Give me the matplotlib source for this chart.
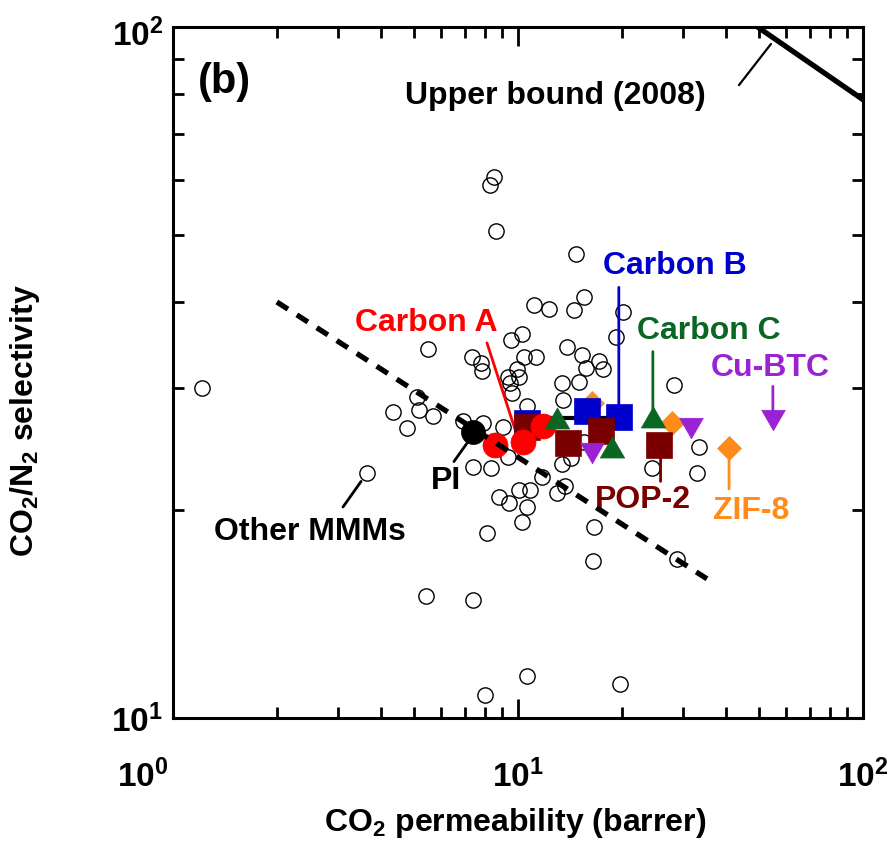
import matplotlib.pyplot as plt
from matplotlib.ticker import NullFormatter
from matplotlib.transforms import ScaledTranslation

plt.rcParams['font.family'] = ['Liberation Sans', 'DejaVu Sans']
plt.rcParams['font.weight'] = 'bold'
plt.rcParams['axes.labelweight'] = 'bold'
plt.rcParams['mathtext.fontset'] = 'custom'
plt.rcParams['mathtext.rm'] = 'Liberation Sans:bold'
plt.rcParams['mathtext.bf'] = 'Liberation Sans:bold'
plt.rcParams['mathtext.it'] = 'Liberation Sans:bold'

# other mixed matrix membranes (open circles)
other_x = [1.21, 3.65, 5.48, 7.36, 7.81, 7.86, 5.10, 4.34, 5.16, 5.67, 4.77, 6.93, 7.92, 9.05,
           7.41, 8.35, 8.81, 9.42, 9.54, 10.27, 8.64, 8.52, 8.30, 14.7, 15.5, 11.1, 12.3, 14.5,
           20.2, 19.2, 10.4, 11.3, 9.93, 9.35, 10.1, 9.48, 9.61, 13.9, 15.3, 15.7, 17.2, 17.6,
           13.4, 15.0, 13.5, 10.6, 9.35, 13.4, 14.2, 11.7, 13.7, 13.0, 10.1, 10.8, 10.6, 10.3,
           8.13, 16.6, 16.5, 28.9, 24.5, 33.0, 33.5, 28.3, 5.41, 7.41, 10.6, 8.02, 19.8, 15.5]
other_y = [30.0, 22.6, 34.2, 33.3, 32.6, 31.8, 29.1, 27.7, 27.9, 27.4, 26.3, 26.9, 26.7, 26.4,
           23.1, 23.0, 20.9, 20.5, 35.2, 36.0, 50.7, 60.7, 59.1, 46.9, 40.7, 39.6, 39.1, 38.9,
           38.7, 35.6, 33.3, 33.3, 32.0, 31.2, 31.2, 30.5, 29.5, 34.4, 33.5, 32.1, 32.9, 32.0,
           30.5, 30.6, 28.9, 28.3, 23.9, 23.3, 23.8, 22.3, 21.7, 21.2, 21.4, 21.4, 20.2, 19.2,
           18.5, 18.9, 16.9, 17.0, 23.0, 22.6, 24.7, 30.3, 15.0, 14.8, 11.5, 10.8, 11.2, 25.1]

pi_x = [7.41]
pi_y = [25.9]
carbonA_x = [8.58, 10.34, 11.81]
carbonA_y = [24.8, 25.1, 26.5]
carbonB_x = [10.62, 15.85, 19.6]
carbonB_y = [26.7, 27.8, 27.3]
carbonC_x = [12.97, 18.7, 24.6]
carbonC_y = [27.2, 24.7, 27.3]
pop2_x = [10.62, 13.96, 17.4, 25.6]
pop2_y = [26.4, 25.0, 26.0, 24.8]
cubtc_x = [16.4, 31.7, 54.8]
cubtc_y = [24.2, 26.3, 27.0]
zif8_x = [16.4, 27.9, 40.9]
zif8_y = [28.6, 26.7, 24.6]

trend_x = [2.0, 35.3]
trend_y = [40.0, 15.9]
link_x = [10.6, 19.6]
link_y = [27.2, 27.2]
ub_x = [49.5, 100]
ub_y = [100, 78.5]

red = '#ff0000'
blue = '#0000cc'
green = '#0b6623'
maroon = '#7a0000'
purple = '#9a22d4'
orange = '#ff8c1a'

up_tri = [(-1, -0.866), (1, -0.866), (0, 0.866), (-1, -0.866)]
down_tri = [(-1, 0.866), (1, 0.866), (0, -0.866), (-1, 0.866)]

fig = plt.figure(figsize=(8.93, 8.47), dpi=100)
ax = fig.add_axes([0.1937, 0.1523, 0.7727, 0.8158])
ax.set_xscale('log')
ax.set_yscale('log')
ax.set_xlim(1, 100)
ax.set_ylim(10, 100)

ax.plot(other_x, other_y, 'o', ms=11, mfc='none', mec='k', mew=1.0, zorder=2)
ax.plot(link_x, link_y, '-', color='k', lw=3, zorder=3)
ax.plot(zif8_x, zif8_y, 'D', ms=12.2, color=orange, mew=0.5, zorder=4)
ax.plot(carbonB_x, carbonB_y, 's', ms=18.5, color=blue, mew=0.5, zorder=5)
ax.plot(pop2_x, pop2_y, 's', ms=18.5, color=maroon, mew=0.5, zorder=6)
ax.plot(carbonA_x, carbonA_y, 'o', ms=18, color=red, mew=0.5, zorder=7)
ax.plot(pi_x, pi_y, 'o', ms=17.3, color='k', mew=0.5, zorder=7)
ax.plot(cubtc_x, cubtc_y, linestyle='none', marker=down_tri, ms=17, color=purple, mew=0.5, zorder=8)
ax.plot(carbonC_x, carbonC_y, linestyle='none', marker=up_tri, ms=17.5, color=green, mew=0.5, zorder=9)
ax.plot(trend_x, trend_y, color='k', lw=3.8, ls=(0, (2.5, 2.0)), zorder=10)
ax.plot(ub_x, ub_y, color='k', lw=3.8, zorder=10)

def leader(x0, y0, x1, y1, c, lw=2.0):
    ax.annotate('', xy=(x1, y1), xytext=(x0, y0),
                arrowprops=dict(arrowstyle='-', color=c, lw=lw, shrinkA=0, shrinkB=0),
                zorder=3)

leader(8.13, 34.9, 9.87, 25.9, red)
leader(carbonB_x[-1], 42.0, carbonB_x[-1], carbonB_y[-1], blue)
leader(carbonC_x[-1], 33.9, carbonC_x[-1], carbonC_y[-1], green)
leader(cubtc_x[-1], 30.2, cubtc_x[-1], cubtc_y[-1], purple)
leader(zif8_x[-1], 21.45, zif8_x[-1], zif8_y[-1], orange)
leader(pop2_x[-1] + 0.3, 22.0, pop2_x[-1] + 0.3, pop2_y[-1], maroon)
leader(6.52, 23.5, 7.12, 25.0, 'k')
leader(3.11, 20.2, 3.51, 22.0, 'k')
leader(43.7, 82.4, 54.1, 94.5, 'k', lw=1.6)

fs = 23
ax.text(12.8, 79.5, 'Upper bound (2008)', fontsize=fs, ha='center', va='center')
ax.text(5.41, 37.3, 'Carbon A', fontsize=fs, color=red, ha='center', va='center')
ax.text(28.5, 45.1, 'Carbon B', fontsize=fs, color=blue, ha='center', va='center')
ax.text(35.8, 36.3, 'Carbon C', fontsize=fs, color=green, ha='center', va='center')
ax.text(53.8, 32.1, 'Cu-BTC', fontsize=fs, color=purple, ha='center', va='center')
ax.text(6.18, 22.0, 'PI', fontsize=fs, ha='center', va='center')
ax.text(23.0, 20.7, 'POP-2', fontsize=fs, color=maroon, ha='center', va='center')
ax.text(47.4, 19.9, 'ZIF-8', fontsize=fs, color=orange, ha='center', va='center')
ax.text(2.50, 18.6, 'Other MMMs', fontsize=fs, ha='center', va='center')
ax.text(0.075, 0.92, '(b)', fontsize=30, ha='center', va='center', transform=ax.transAxes)

for s in ax.spines.values():
    s.set_linewidth(2.2)
ax.tick_params(which='both', direction='in', top=True, right=True, width=2.0)
ax.tick_params(which='major', length=14)
ax.tick_params(which='minor', length=8)
ax.tick_params(axis='x', which='major', pad=30, labelsize=24)
ax.tick_params(axis='y', which='major', pad=7, labelsize=24)

ax.set_xticks([1, 10, 100])
ax.set_xticklabels([r'$\mathbf{10^{0}}$', r'$\mathbf{10^{1}}$', r'$\mathbf{10^{2}}$'])
ax.set_yticks([10, 100])
ax.set_yticklabels([r'$\mathbf{10^{1}}$', r'$\mathbf{10^{2}}$'])
ax.xaxis.set_minor_formatter(NullFormatter())
ax.yaxis.set_minor_formatter(NullFormatter())

xl = ax.get_xticklabels()
xl[0].set_transform(xl[0].get_transform() + ScaledTranslation(-0.30, 0, fig.dpi_scale_trans))
yl = ax.get_yticklabels()
yl[1].set_transform(yl[1].get_transform() + ScaledTranslation(0, -0.05, fig.dpi_scale_trans))

ax.set_xlabel(r'CO$_\mathbf{2}$ permeability (barrer)', fontsize=fs, fontweight='bold')
ax.set_ylabel(r'CO$_\mathbf{2}$/N$_\mathbf{2}$ selectivity', fontsize=fs, fontweight='bold')
ax.xaxis.set_label_coords(0.496, -0.127)
ax.yaxis.set_label_coords(-0.19, 0.43)

fig.savefig('out.png', dpi=100)
